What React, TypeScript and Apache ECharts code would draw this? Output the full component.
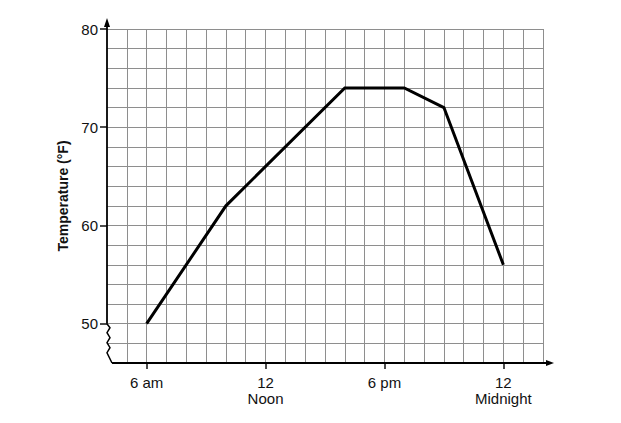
import React, { useEffect, useRef } from 'react';
import * as echarts from 'echarts';

const hours = [6, 10, 16, 19, 21, 24];
const temps = [50, 62, 74, 74, 72, 56];
const xTickValues = [6, 12, 18, 24];
const xTickLabels = ['6 am', '12\nNoon', '6 pm', '12\nMidnight'];
const yTickValues = [50, 60, 70, 80];
const yTickLabels = ['50', '60', '70', '80'];
const yName = 'Temperature (°F)';
const xMin = 4;
const xMax = 26;
const yMin = 46;
const yMax = 80;
const yBreak = 50;

export default function App() {
  const ref = useRef<HTMLDivElement>(null);
  useEffect(() => {
    const chart = echarts.init(ref.current!, null, { renderer: 'svg' });
    const font = '"Liberation Sans", Arial, Helvetica, sans-serif';
    const gridColor = '#8e8e8e';
    const ink = '#111';
    chart.setOption({
      animation: false,
      backgroundColor: '#ffffff',
      grid: { left: 107, right: 78, top: 29, bottom: 60, containLabel: false, outerBoundsMode: 'none' },
      xAxis: [
        {
          type: 'value', min: xMin, max: xMax, interval: 1, position: 'bottom',
          axisLine: { show: false, onZero: false }, axisTick: { show: false }, axisLabel: { show: false },
          splitLine: { show: true, showMinLine: false, lineStyle: { color: gridColor, width: 1 } },
        },
        {
          type: 'value', min: xMin, max: xMax, position: 'bottom',
          axisLine: { show: false, onZero: false },
          axisTick: { show: true, customValues: xTickValues, length: 6, lineStyle: { color: ink, width: 1.5 } },
          axisLabel: {
            show: true, customValues: xTickValues, margin: 11, fontSize: 15, lineHeight: 16,
            color: ink, fontFamily: font,
            formatter: (v: number) => xTickLabels[xTickValues.indexOf(v)] ?? '',
          },
          splitLine: { show: false },
        },
      ],
      yAxis: [
        {
          type: 'value', min: yMin, max: yMax, interval: 2, position: 'left',
          axisLine: { show: false, onZero: false }, axisTick: { show: false }, axisLabel: { show: false },
          splitLine: { show: true, showMinLine: false, lineStyle: { color: gridColor, width: 1 } },
        },
        {
          type: 'value', min: yMin, max: yMax, position: 'left',
          name: yName, nameLocation: 'middle', nameGap: 37,
          nameTextStyle: { fontWeight: 'bold', fontSize: 14, color: ink, fontFamily: font },
          axisLine: { show: false, onZero: false },
          axisTick: { show: true, customValues: yTickValues, length: 7, lineStyle: { color: ink, width: 1.5 } },
          axisLabel: {
            show: true, customValues: yTickValues, margin: 9, fontSize: 15, color: ink, fontFamily: font,
            formatter: (v: number) => yTickLabels[yTickValues.indexOf(v)] ?? '',
          },
          splitLine: { show: false },
        },
      ],
      series: [
        {
          type: 'line', xAxisIndex: 0, yAxisIndex: 0, symbol: 'none',
          data: hours.map((h, i) => [h, temps[i]]),
          lineStyle: { color: '#000', width: 3, join: 'miter' },
          z: 5,
        },
      ],
    });

    const p = (x: number, y: number) =>
      chart.convertToPixel({ xAxisIndex: 0, yAxisIndex: 0 } as any, [x, y]) as number[];
    const [x0, yTop] = p(xMin, yMax);
    const [, yB] = p(xMin, yBreak);
    const [xEnd, yBottom] = p(xMax, yMin);
    const zig = [[0, 0], [3, 4], [0, 9], [3, 14], [0, 19], [3, 24], [0, 29]].map(([dx, dy]) => [x0 + dx, yB + dy]);
    zig.push([x0 + 5, yBottom]);
    const lw = 1.8;
    chart.setOption({
      graphic: [
        { type: 'line', z: 100, shape: { x1: x0, y1: yB, x2: x0, y2: yTop - 4 }, style: { stroke: '#000', lineWidth: lw } },
        { type: 'polygon', z: 100, shape: { points: [[x0, yTop - 11], [x0 - 3, yTop - 2], [x0 + 3, yTop - 2]] }, style: { fill: '#000' } },
        { type: 'polyline', z: 100, shape: { points: zig }, style: { stroke: '#000', lineWidth: 1.5, fill: null } },
        { type: 'line', z: 100, shape: { x1: x0 + 5, y1: yBottom, x2: xEnd + 6, y2: yBottom }, style: { stroke: '#000', lineWidth: lw } },
        { type: 'polygon', z: 100, shape: { points: [[xEnd + 11, yBottom], [xEnd + 3, yBottom - 3], [xEnd + 3, yBottom + 3]] }, style: { fill: '#000' } },
      ],
    });
    return () => chart.dispose();
  }, []);
  return <div ref={ref} style={{ position: 'fixed', left: 0, top: 0, width: 621, height: 423, background: '#fff' }} />;
}
